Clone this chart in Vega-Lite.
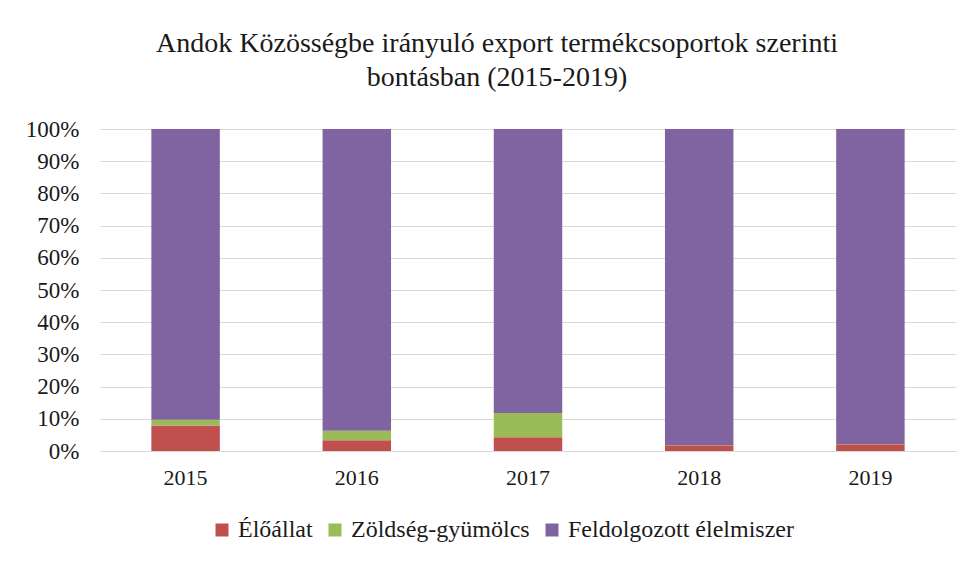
{
  "$schema": "https://vega.github.io/schema/vega-lite/v6.json",
  "autosize": "none",
  "width": 856,
  "height": 322,
  "padding": {"left": 100, "top": 129, "right": 23, "bottom": 111},
  "background": "white",
  "title": {
    "text": ["Andok Közösségbe irányuló export termékcsoportok szerinti", "bontásban (2015-2019)"],
    "font": "Liberation Serif",
    "fontSize": 28,
    "fontWeight": "normal",
    "color": "#1a1a1a",
    "anchor": "middle",
    "frame": "group",
    "dx": -31,
    "offset": 26,
    "lineHeight": 34
  },
  "data": {
    "values": [
      {"year": "2015", "cat": "Élőállat", "ord": 1, "value": 7.9},
      {"year": "2015", "cat": "Zöldség-gyümölcs", "ord": 2, "value": 1.8},
      {"year": "2015", "cat": "Feldolgozott élelmiszer", "ord": 3, "value": 90.3},
      {"year": "2016", "cat": "Élőállat", "ord": 1, "value": 3.3},
      {"year": "2016", "cat": "Zöldség-gyümölcs", "ord": 2, "value": 3.0},
      {"year": "2016", "cat": "Feldolgozott élelmiszer", "ord": 3, "value": 93.7},
      {"year": "2017", "cat": "Élőállat", "ord": 1, "value": 4.3},
      {"year": "2017", "cat": "Zöldség-gyümölcs", "ord": 2, "value": 7.5},
      {"year": "2017", "cat": "Feldolgozott élelmiszer", "ord": 3, "value": 88.2},
      {"year": "2018", "cat": "Élőállat", "ord": 1, "value": 1.8},
      {"year": "2018", "cat": "Zöldség-gyümölcs", "ord": 2, "value": 0.1},
      {"year": "2018", "cat": "Feldolgozott élelmiszer", "ord": 3, "value": 98.1},
      {"year": "2019", "cat": "Élőállat", "ord": 1, "value": 2.1},
      {"year": "2019", "cat": "Zöldség-gyümölcs", "ord": 2, "value": 0.1},
      {"year": "2019", "cat": "Feldolgozott élelmiszer", "ord": 3, "value": 97.8}
    ]
  },
  "mark": {"type": "bar"},
  "encoding": {
    "x": {
      "field": "year",
      "type": "nominal",
      "scale": {"paddingInner": 0.6, "paddingOuter": 0.3},
      "axis": {
        "title": null,
        "labelAngle": 0,
        "labelFont": "Liberation Serif",
        "labelFontSize": 22,
        "labelColor": "#1a1a1a",
        "labelPadding": 16,
        "ticks": false,
        "domain": true,
        "domainColor": "#D9D9D9",
        "domainWidth": 1
      }
    },
    "y": {
      "field": "value",
      "type": "quantitative",
      "stack": "normalize",
      "scale": {"domain": [0, 1]},
      "axis": {
        "title": null,
        "format": ".0%",
        "values": [0, 0.1, 0.2, 0.3, 0.4, 0.5, 0.6, 0.7, 0.8, 0.9, 1],
        "labelFont": "Liberation Serif",
        "labelFontSize": 23,
        "labelColor": "#1a1a1a",
        "labelPadding": 21,
        "ticks": false,
        "domain": false,
        "grid": true,
        "gridColor": "#D9D9D9",
        "gridWidth": 1
      }
    },
    "color": {
      "field": "cat",
      "type": "nominal",
      "sort": ["Élőállat", "Zöldség-gyümölcs", "Feldolgozott élelmiszer"],
      "scale": {
        "domain": ["Élőállat", "Zöldség-gyümölcs", "Feldolgozott élelmiszer"],
        "range": ["#C0504D", "#9BBB59", "#8064A2"]
      },
      "legend": {
        "title": null,
        "orient": "none",
        "direction": "horizontal",
        "legendX": 110,
        "legendY": 389,
        "symbolType": "square",
        "symbolSize": 169,
        "symbolStrokeWidth": 0,
        "labelFont": "Liberation Serif",
        "labelFontSize": 24,
        "labelColor": "#1a1a1a",
        "labelOffset": 4,
        "columnSpacing": 38,
        "labelLimit": 400
      }
    },
    "order": {"field": "ord", "type": "quantitative"}
  },
  "config": {
    "font": "Liberation Serif",
    "view": {"stroke": null}
  }
}
